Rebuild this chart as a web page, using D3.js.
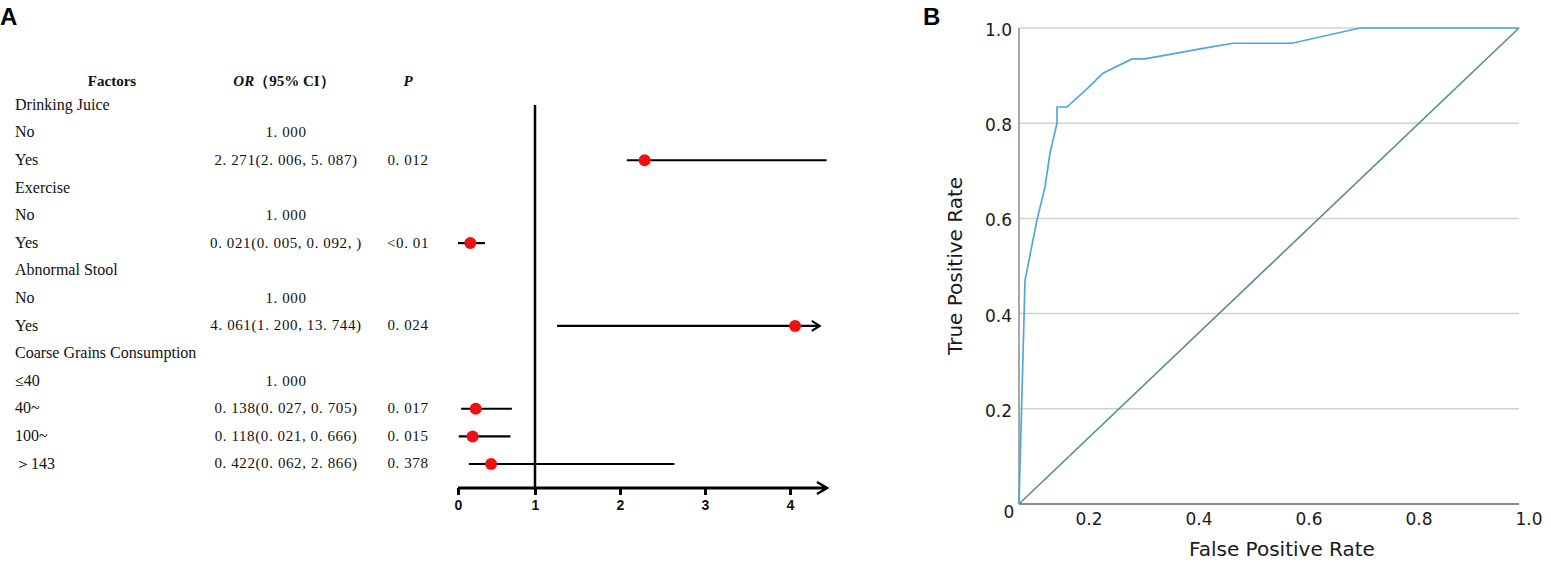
<!DOCTYPE html>
<html>
<head>
<meta charset="utf-8">
<script src="https://cdn.jsdelivr.net/npm/d3@7.9.0/dist/d3.min.js"></script>
<style>
  html, body { margin: 0; padding: 0; background: #fff; }
  svg { display: block; }
</style>
</head>
<body>
<svg id="chart" width="1551" height="564"></svg>
<script>
// ---- panel A: table + forest plot ----
const rowLabels = ["Drinking Juice", "No", "Yes", "Exercise", "No", "Yes",
  "Abnormal Stool", "No", "Yes", "Coarse Grains Consumption", "≤40", "40~", "100~", "＞143"];
const orText = ["", "1. 000", "2. 271(2. 006, 5. 087)", "", "1. 000", "0. 021(0. 005, 0. 092, )",
  "", "1. 000", "4. 061(1. 200, 13. 744)", "", "1. 000", "0. 138(0. 027, 0. 705)",
  "0. 118(0. 021, 0. 666)", "0. 422(0. 062, 2. 866)"];
const pText = ["", "", "0. 012", "", "", "<0. 01", "", "", "0. 024", "", "", "0. 017", "0. 015", "0. 378"];

// estimates as drawn in the plot (row index, point, lower, upper)
const estRow = [2, 5, 8, 11, 12, 13];
const estOR = [2.29, 0.16, 4.06, 0.23, 0.19, 0.43];
const estLo = [2.08, 0.0, 1.26, 0.04, 0.01, 0.14];
const estHi = [4.43, 0.35, 4.35, 0.70, 0.68, 2.64];
const estArrow = [false, false, true, false, false, false];
const forestTicks = [0, 1, 2, 3, 4];

// ---- panel B: ROC ----
const fpr = [0, 0.012, 0.036, 0.052, 0.062, 0.076, 0.076, 0.096, 0.138, 0.168, 0.226, 0.252, 0.382, 0.428, 0.546, 0.682, 1.0];
const tpr = [0, 0.47, 0.597, 0.666, 0.737, 0.80, 0.834, 0.834, 0.874, 0.905, 0.935, 0.935, 0.96, 0.968, 0.968, 1.0, 1.0];
const rocTicks = [0.2, 0.4, 0.6, 0.8, 1.0];

const svg = d3.select("#chart");
const serif = "'Liberation Serif', 'Times New Roman', serif";
const sans = "'DejaVu Sans', Verdana, sans-serif";

// panel letters
svg.append("text").attr("x", 0).attr("y", 25).text("A")
  .attr("font-family", "'Liberation Sans', Arial, sans-serif").attr("font-weight", "bold").attr("font-size", 24);
svg.append("text").attr("x", 923).attr("y", 25).text("B")
  .attr("font-family", "'Liberation Sans', Arial, sans-serif").attr("font-weight", "bold").attr("font-size", 24);

// ---------- table ----------
const rowY = d3.scaleLinear().domain([0, rowLabels.length - 1]).range([104, 463]);
const tA = svg.append("g").attr("font-family", serif).attr("font-size", 15).attr("fill", "#111");

const head = tA.append("g").attr("font-weight", "bold").attr("dominant-baseline", "middle");
head.append("text").attr("x", 112).attr("y", 83).attr("text-anchor", "middle").text("Factors");
const orHead = head.append("text").attr("x", 284).attr("y", 83).attr("text-anchor", "middle");
orHead.append("tspan").attr("font-style", "italic").text("OR");
orHead.append("tspan").text("（95% CI）");
head.append("text").attr("x", 408).attr("y", 83).attr("text-anchor", "middle")
  .attr("font-style", "italic").text("P");

tA.selectAll("text.lab").data(rowLabels).join("text")
  .attr("class", "lab")
  .attr("x", 15).attr("y", (d, i) => rowY(i) + 2)
  .attr("dominant-baseline", "middle")
  .attr("font-size", 16)
  .text(d => d);

tA.selectAll("text.or").data(orText).join("text")
  .attr("class", "or")
  .attr("x", 286).attr("y", (d, i) => rowY(i) + 2)
  .attr("text-anchor", "middle").attr("dominant-baseline", "middle")
  .attr("letter-spacing", 0.6)
  .text(d => d);

tA.selectAll("text.p").data(pText).join("text")
  .attr("class", "p")
  .attr("x", 408).attr("y", (d, i) => rowY(i) + 2)
  .attr("text-anchor", "middle").attr("dominant-baseline", "middle")
  .attr("letter-spacing", 0.6)
  .text(d => d);

// ---------- forest plot ----------
const fx = d3.scaleLinear().domain([0, 1, 4]).range([458, 535, 790]);
const axisY = 488;
const axisEnd = 827;
const fg = svg.append("g");

// reference line at OR = 1
fg.append("line")
  .attr("x1", fx(1)).attr("x2", fx(1)).attr("y1", 105).attr("y2", axisY)
  .attr("stroke", "#000").attr("stroke-width", 2.5);

// x axis with arrow
const fAxis = fg.append("g").attr("transform", `translate(0,${axisY})`)
  .call(d3.axisBottom(fx).tickValues(forestTicks).tickSize(7).tickSizeOuter(0).tickFormat(d3.format("d")));
fAxis.select(".domain").remove();
fAxis.selectAll(".tick line").attr("stroke", "#000").attr("stroke-width", 3);
fAxis.selectAll(".tick text")
  .attr("font-family", "'Liberation Sans', Arial, sans-serif")
  .attr("font-size", 14).attr("font-weight", "bold").attr("fill", "#111")
  .attr("dy", "0.85em");
fg.append("line").attr("x1", fx(0)).attr("x2", axisEnd).attr("y1", axisY).attr("y2", axisY)
  .attr("stroke", "#000").attr("stroke-width", 3);
fg.append("path")
  .attr("d", `M${axisEnd - 10},${axisY - 6} L${axisEnd},${axisY} L${axisEnd - 10},${axisY + 6}`)
  .attr("fill", "none").attr("stroke", "#000").attr("stroke-width", 2.5);

// CI lines
fg.selectAll("line.ci").data(estRow).join("line")
  .attr("class", "ci")
  .attr("x1", (d, i) => fx(estLo[i])).attr("x2", (d, i) => fx(estHi[i]))
  .attr("y1", d => rowY(d) + 1).attr("y2", d => rowY(d) + 1)
  .attr("stroke", "#000").attr("stroke-width", 2.2);

// arrow heads on truncated CIs
fg.selectAll("path.ciarrow").data(estRow.filter((d, i) => estArrow[i])).join("path")
  .attr("class", "ciarrow")
  .attr("d", d => {
    const i = estRow.indexOf(d);
    const x = fx(estHi[i]), y = rowY(d) + 1;
    return `M${x - 8},${y - 5} L${x},${y} L${x - 8},${y + 5}`;
  })
  .attr("fill", "none").attr("stroke", "#000").attr("stroke-width", 2);

// point estimates
fg.selectAll("circle.est").data(estRow).join("circle")
  .attr("class", "est")
  .attr("cx", (d, i) => fx(estOR[i])).attr("cy", d => rowY(d) + 1)
  .attr("r", 6).attr("fill", "#ee1111");

// ---------- ROC ----------
const x = d3.scaleLinear().domain([0, 1]).range([1019, 1519]);
const xLab = d3.scaleLinear().domain([0, 1]).range([979, 1529]); // tick labels sit on their own spacing
const y = d3.scaleLinear().domain([0, 1]).range([504, 28]);
const rg = svg.append("g");

rg.selectAll("line.grid").data(rocTicks).join("line")
  .attr("class", "grid")
  .attr("x1", x(0)).attr("x2", x(1))
  .attr("y1", d => y(d)).attr("y2", d => y(d))
  .attr("stroke", "#d2d2d2").attr("stroke-width", 1.5);

rg.append("line").attr("x1", x(0)).attr("x2", x(0)).attr("y1", y(1)).attr("y2", y(0))
  .attr("stroke", "#a8a8a8").attr("stroke-width", 2);
rg.append("line").attr("x1", x(0)).attr("x2", x(1)).attr("y1", y(0)).attr("y2", y(0))
  .attr("stroke", "#8c8c8c").attr("stroke-width", 2);

const fmt = d3.format(".1f");
rg.selectAll("text.yt").data(rocTicks).join("text")
  .attr("class", "yt")
  .attr("x", 1012).attr("y", d => y(d) + 3)
  .attr("text-anchor", "end").attr("dominant-baseline", "middle")
  .attr("font-family", sans).attr("font-size", 17).attr("fill", "#1a1a1a")
  .text(fmt);
rg.append("text").attr("x", 1009).attr("y", 513)
  .attr("text-anchor", "middle").attr("dominant-baseline", "middle")
  .attr("font-family", sans).attr("font-size", 17).attr("fill", "#1a1a1a")
  .text("0");
rg.selectAll("text.xt").data(rocTicks).join("text")
  .attr("class", "xt")
  .attr("x", d => xLab(d)).attr("y", 520)
  .attr("text-anchor", "middle").attr("dominant-baseline", "middle")
  .attr("font-family", sans).attr("font-size", 17).attr("fill", "#1a1a1a")
  .text(fmt);

rg.append("text").attr("x", 1282).attr("y", 550)
  .attr("text-anchor", "middle").attr("dominant-baseline", "middle")
  .attr("font-family", sans).attr("font-size", 20).attr("fill", "#1a1a1a")
  .text("False Positive Rate");
rg.append("text")
  .attr("transform", `translate(956,${(y(0) + y(1)) / 2}) rotate(-90)`)
  .attr("text-anchor", "middle").attr("dominant-baseline", "middle")
  .attr("font-family", sans).attr("font-size", 20).attr("fill", "#1a1a1a")
  .text("True Positive Rate");

// reference diagonal
rg.append("line").attr("x1", x(0)).attr("y1", y(0)).attr("x2", x(1)).attr("y2", y(1))
  .attr("stroke", "#5b8b8b").attr("stroke-width", 1.6);

// ROC curve
const rocLine = d3.line().x(d => x(d[0])).y(d => y(d[1]));
rg.append("path")
  .datum(d3.zip(fpr, tpr))
  .attr("d", rocLine)
  .attr("fill", "none").attr("stroke", "#4ea7e0").attr("stroke-width", 1.7);
</script>
</body>
</html>
